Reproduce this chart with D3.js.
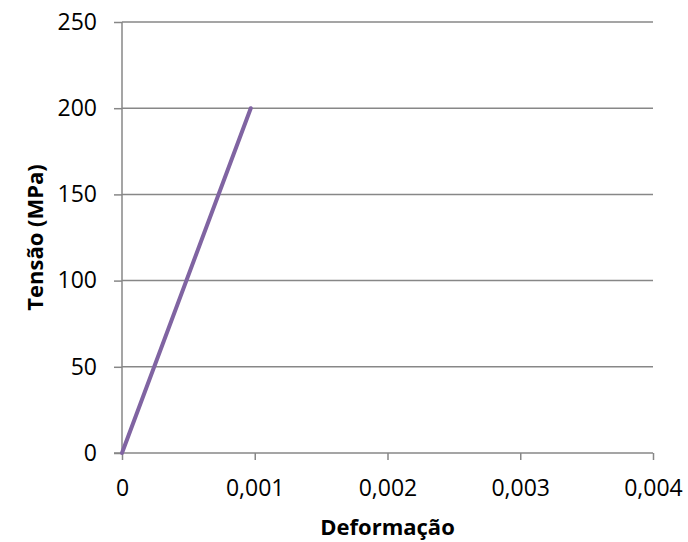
<!DOCTYPE html>
<html><head><meta charset="utf-8">
<script src="https://cdn.jsdelivr.net/npm/d3@7"></script>
<style>body{margin:0;background:#fff}svg{display:block}</style>
</head><body>
<script>
const strain = [0, 0.00097];
const stress = [0, 200];
const xTicks = [0, 0.001, 0.002, 0.003, 0.004];
const xTickLabels = ["0", "0,001", "0,002", "0,003", "0,004"];
const yTicks = [0, 50, 100, 150, 200, 250];
const xTitle = "Deformação";
const yTitle = "Tensão (MPa)";

const W = 688, H = 542;
const m = {left: 122, right: 35, top: 22, bottom: 89};
const svg = d3.select("body").append("svg").attr("width", W).attr("height", H);
const x = d3.scaleLinear().domain([0, 0.004]).range([m.left, W - m.right]);
const y = d3.scaleLinear().domain([0, 250]).range([H - m.bottom, m.top]);
const font = "'Open Sans', sans-serif";
const gray = "#878787";

// gridlines
svg.append("g").selectAll("line").data(yTicks.filter(d => d > 0)).join("line")
  .attr("x1", m.left).attr("x2", W - m.right)
  .attr("y1", d => y(d)).attr("y2", d => y(d))
  .attr("stroke", gray).attr("stroke-width", 1.5);

// y axis
const ya = svg.append("g").attr("transform", `translate(${m.left},0)`)
  .call(d3.axisLeft(y).tickValues(yTicks).tickSize(8).tickPadding(17).tickFormat(d3.format("d")));
ya.select(".domain").attr("stroke", gray).attr("stroke-width", 1.5).attr("d", `M0,${y(0)}V${y(250)}`);
ya.selectAll(".tick line").attr("stroke", gray).attr("stroke-width", 1.5);
ya.selectAll("text").attr("font-family", font).attr("font-size", 23).attr("fill", "#000");

// x axis
const xa = svg.append("g").attr("transform", `translate(0,${y(0)})`)
  .call(d3.axisBottom(x).tickValues(xTicks).tickSize(7).tickPadding(20)
    .tickFormat((d, i) => xTickLabels[i]));
xa.select(".domain").attr("stroke", gray).attr("stroke-width", 1.5).attr("d", `M${x(0) - 8},0H${x(0.004)}`);
xa.selectAll(".tick line").attr("stroke", gray).attr("stroke-width", 1.5);
xa.selectAll("text").attr("font-family", font).attr("font-size", 23).attr("fill", "#000");

// series
const pts = strain.map((s, i) => [s, stress[i]]);
svg.append("path").datum(pts)
  .attr("d", d3.line().x(d => x(d[0])).y(d => y(d[1])))
  .attr("fill", "none").attr("stroke", "#8064A2").attr("stroke-width", 4).attr("stroke-linecap", "round");

// titles
svg.append("text").attr("x", (x(0) + x(0.004)) / 2).attr("y", 535)
  .attr("text-anchor", "middle").attr("font-family", font).attr("font-weight", "bold")
  .attr("font-size", 22).text(xTitle);
svg.append("text").attr("transform", `translate(43,${(y(0) + y(250)) / 2}) rotate(-90)`)
  .attr("text-anchor", "middle").attr("font-family", font).attr("font-weight", "bold")
  .attr("font-size", 22).text(yTitle);
</script>
</body></html>
